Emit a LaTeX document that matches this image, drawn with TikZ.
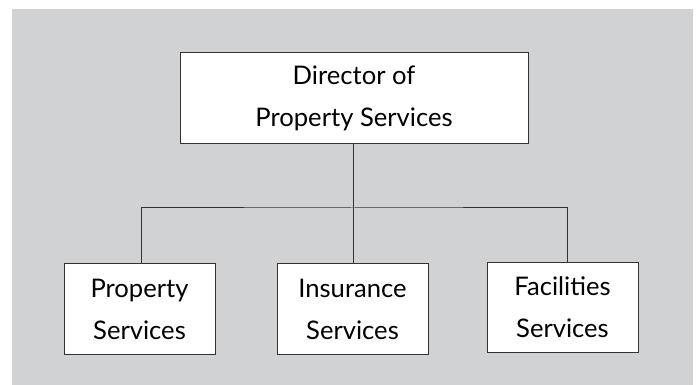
\documentclass[tikz,border=0pt]{standalone}
\usepackage{fontspec}
\setmainfont{Lato}
\definecolor{bggray}{HTML}{D1D2D4}
\definecolor{linegray}{HTML}{333333}
\tikzset{
    unit/.style = {draw = linegray, fill = white, line width = 0.5pt, align = center,
        minimum width = 75.5pt, minimum height = 45pt, inner sep = 0pt,
        font = \fontsize{12.8}{21}\selectfont},
    link/.style = {draw = linegray, line width = 0.5pt}
}
\begin{document}
\begin{tikzpicture}[x = 0.5pt, y = -0.5pt]
        \useasboundingbox (0, 0) rectangle (697, 385);
        \fill[bggray] (12, 9) rectangle (693, 385);

        \node[unit, minimum width = 174pt, minimum height = 45.5pt] (dir) at (354, 98.5) {Director of \\ Property Services};
        \node[unit] (prop) at (139.5, 309) {Property \\ Services};
        \node[unit] (ins) at (352.5, 309) {Insurance \\ Services};
        \node[unit] (fac) at (562.5, 307.5) {Facilities \\ Services};

        \coordinate (bus) at (353, 208);
        \draw[link] (dir.south -| bus) -- (bus);
        \draw[link] (prop.north -| 141, 0) |- (bus) -| (fac.north -| 567, 0);
        \draw[link] (bus) -- (ins.north -| bus);
    \end{tikzpicture}
\end{document}
